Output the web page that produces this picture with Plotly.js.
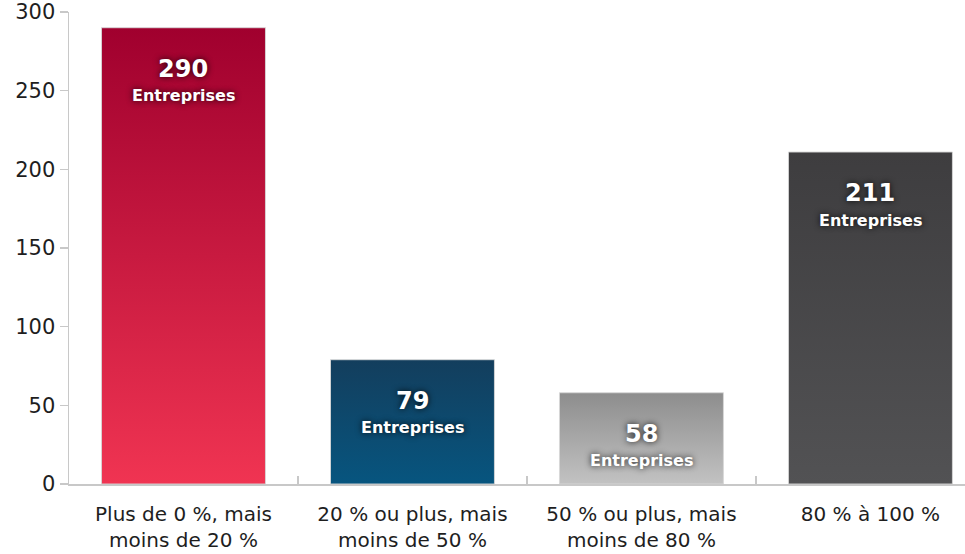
<!DOCTYPE html>
<html>
<head>
<meta charset="utf-8">
<script src="https://cdn.plot.ly/plotly-3.0.1.min.js"></script>
<style>
  html, body { margin: 0; padding: 0; background: #ffffff; }
  #chart { width: 965px; height: 554px; }
</style>
</head>
<body>
<div id="chart"></div>
<script>
// Data
const categories = [
  "Plus de 0 %, mais<br>moins de 20 %",
  "20 % ou plus, mais<br>moins de 50 %",
  "50 % ou plus, mais<br>moins de 80 %",
  "80 % à 100 %"
];
const values = [290, 79, 58, 211];
const unitLabel = "Entreprises";
const yTicks = [0, 50, 100, 150, 200, 250, 300];

// Styles (gradient top -> bottom for each bar)
const gradTop = ["#a0002e", "#133e5d", "#8d8d8d", "#3e3d3f"];
const gradBottom = ["#f03452", "#07557f", "#c2c2c2", "#525254"];

const labelShadow = "0px 0px 6px rgba(0,0,0,0.85)";

const trace = {
  type: "bar",
  x: categories,
  y: values,
  width: 0.716,
  marker: {
    color: gradBottom,
    line: { color: "rgba(215,215,215,0.9)", width: 1 }
  },
  hoverinfo: "none"
};

const annotations = [];
categories.forEach((c, i) => {
  annotations.push({
    x: c, y: values[i], xref: "x", yref: "y",
    text: "<b>" + values[i] + "</b>",
    showarrow: false, yanchor: "middle", yshift: -41,
    font: { family: "DejaVu Sans", size: 24, color: "#ffffff", shadow: labelShadow }
  });
  annotations.push({
    x: c, y: values[i], xref: "x", yref: "y",
    text: "<b>" + unitLabel + "</b>",
    showarrow: false, yanchor: "middle", yshift: -68,
    font: { family: "DejaVu Sans", size: 16, color: "#ffffff", shadow: labelShadow }
  });
});

const layout = {
  width: 965, height: 554,
  margin: { l: 69, r: 0, t: 12, b: 70 },
  paper_bgcolor: "#ffffff",
  plot_bgcolor: "#ffffff",
  showlegend: false,
  font: { family: "DejaVu Sans", color: "#1e1e1e", size: 21 },
  xaxis: {
    type: "category",
    range: [-0.5, 3.413],
    showgrid: false,
    showline: true, linecolor: "#c8c8c8", linewidth: 1.5,
    ticks: "inside", tickson: "boundaries", ticklen: 8, tickcolor: "#c8c8c8", tickwidth: 1.5,
    ticklabelstandoff: 11,
    tickfont: { family: "DejaVu Sans", size: 20, color: "#1e1e1e" },
    fixedrange: true
  },
  yaxis: {
    range: [0, 300],
    tickvals: yTicks,
    ticktext: yTicks.map(String),
    showgrid: false, zeroline: false,
    showline: true, linecolor: "#c8c8c8", linewidth: 1.5,
    ticks: "outside", ticklen: 8, tickcolor: "#c8c8c8", tickwidth: 1.5,
    tickfont: { family: "DejaVu Sans", size: 21, color: "#1e1e1e" },
    fixedrange: true
  },
  annotations: annotations
};

Plotly.newPlot("chart", [trace], layout, { displayModeBar: false, staticPlot: true }).then(gd => {
  const svg = gd.querySelector("svg.main-svg");
  const NS = "http://www.w3.org/2000/svg";
  let defs = svg.querySelector("defs");
  if (!defs) { defs = document.createElementNS(NS, "defs"); svg.insertBefore(defs, svg.firstChild); }
  gradTop.forEach((top, i) => {
    const lg = document.createElementNS(NS, "linearGradient");
    lg.setAttribute("id", "barGrad" + i);
    lg.setAttribute("x1", "0"); lg.setAttribute("y1", "0");
    lg.setAttribute("x2", "0"); lg.setAttribute("y2", "1");
    const s1 = document.createElementNS(NS, "stop");
    s1.setAttribute("offset", "0"); s1.setAttribute("stop-color", top);
    const s2 = document.createElementNS(NS, "stop");
    s2.setAttribute("offset", "1"); s2.setAttribute("stop-color", gradBottom[i]);
    lg.appendChild(s1); lg.appendChild(s2);
    defs.appendChild(lg);
  });
  const paths = gd.querySelectorAll(".barlayer .point path");
  paths.forEach((p, i) => { p.style.fill = "url(#barGrad" + i + ")"; });
});
</script>
</body>
</html>
